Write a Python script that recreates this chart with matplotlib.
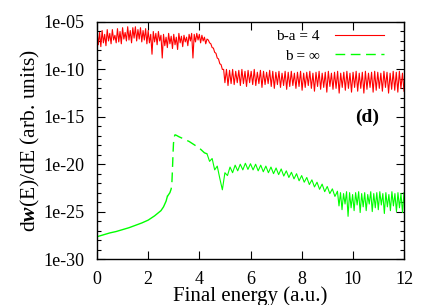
import numpy as np
import matplotlib.pyplot as plt
from matplotlib.ticker import LogLocator, NullFormatter

plt.rcParams['font.family'] = ['Liberation Serif', 'DejaVu Serif']
plt.rcParams['mathtext.fontset'] = 'custom'
plt.rcParams['mathtext.rm'] = 'Liberation Serif'
plt.rcParams['mathtext.bfit'] = 'Liberation Serif:italic:bold'

# ---- data (log10 of dw/dE) ----
# b-a = 4 (red): noisy plateau, drop near E=4.5, oscillating tail
red_plateau_x = np.linspace(0.0, 4.3, 87)
red_plateau = [
    -6.0, -7.4, -6.1, -7.6, -5.9, -7.2, -6.3, -7.5, -5.8, -7.0,
    -6.2, -7.3, -5.8, -6.9, -6.4, -7.2, -5.7, -7.1, -6.0, -7.3,
    -5.6, -6.8, -6.1, -7.0, -5.5, -6.9, -5.9, -7.2, -5.6, -6.7,
    -5.5, -7.0, -5.8, -6.8, -5.6, -7.1, -5.9, -6.9, -5.7, -7.3,
    -5.9, -7.2, -6.3, -8.4, -6.0, -7.1, -6.2, -7.4, -6.0, -7.0,
    -6.4, -8.8, -6.3, -7.5, -6.6, -7.7, -6.2, -7.3, -6.5, -7.8,
    -6.3, -7.4, -6.6, -7.9, -6.2, -7.2, -6.5, -7.6, -6.4, -7.1,
    -6.6, -7.5, -6.3, -7.0, -6.2, -8.8, -6.3, -7.1, -6.2, -6.9,
    -6.3, -7.2, -6.4, -7.0, -6.6, -7.3, -6.8]
red_drop_x = [4.35, 4.40, 4.45, 4.50, 4.55, 4.60, 4.65, 4.70, 4.75, 4.80, 4.85, 4.90, 4.95]
red_drop = [-6.9, -7.2, -7.3, -7.7, -7.75, -8.2, -8.3, -8.8, -8.9, -9.4, -9.5, -10.0, -10.0]
red_tail_x = np.linspace(5.0, 12.0, 117)
red_tail = [
    -11.4, -10.0, -11.7, -10.1, -11.5, -10.0, -11.6, -10.2, -11.4, -10.1,
    -11.7, -10.0, -11.5, -10.2, -11.8, -10.1, -11.4, -10.2, -11.6, -10.0,
    -11.7, -10.3, -11.5, -10.1, -11.9, -10.2, -11.6, -10.3, -11.5, -10.1,
    -11.8, -10.2, -12.0, -10.3, -11.6, -10.2, -11.9, -10.4, -11.7, -10.2,
    -12.1, -10.3, -11.8, -10.2, -11.7, -10.4, -12.0, -10.3, -11.8, -10.2,
    -12.2, -10.4, -11.9, -10.3, -11.7, -10.2, -12.0, -10.4, -12.3, -10.3,
    -11.8, -10.2, -12.1, -10.4, -11.9, -10.3, -12.4, -10.2, -11.8, -10.4,
    -12.1, -10.3, -12.0, -10.2, -12.5, -10.4, -11.9, -10.3, -12.2, -10.2,
    -12.0, -10.4, -12.4, -10.3, -11.9, -10.2, -12.3, -10.4, -12.0, -10.3,
    -12.5, -10.2, -12.1, -10.4, -11.9, -10.3, -12.4, -10.2, -12.2, -10.3,
    -12.0, -10.4, -12.3, -10.2, -11.9, -10.3, -12.5, -10.4, -12.1, -10.2,
    -12.2, -10.3, -12.4, -10.2, -12.0, -10.4, -12.3]

# b = inf (green): smooth rise, jump at E~3, bump, oscillating tail
green_low_x = [0.0, 0.25, 0.5, 0.75, 1.0, 1.25, 1.5, 1.75, 2.0, 2.25, 2.5, 2.6, 2.7, 2.75]
green_low = [-27.65, -27.45, -27.25, -27.1, -26.9, -26.7, -26.45, -26.2, -25.9, -25.45,
             -24.9, -24.5, -23.9, -23.4]
green_jump_x = [2.75, 2.85, 2.9, 2.93, 2.95, 2.97, 2.99, 3.02, 3.05, 3.1, 3.2, 3.4,
                3.6, 3.8, 4.0, 4.2, 4.3]
green_jump = [-23.4, -23.0, -22.6, -21.8, -20.5, -19.0, -17.8, -17.1, -16.9, -16.95,
              -17.1, -17.35, -17.6, -17.95, -18.3, -18.8, -18.9]
green_mid_x = np.linspace(4.3, 9.4, 52)
green_mid = [
    -18.9, -19.7, -19.4, -20.6, -20.2, -21.5, -22.7, -20.9, -21.2, -20.3,
    -20.9, -20.1, -20.7, -20.0, -20.6, -19.9, -20.55, -19.95, -20.6, -20.0,
    -20.7, -20.1, -20.8, -20.2, -20.9, -20.3, -21.0, -20.4, -21.1, -20.5,
    -21.25, -20.7, -21.4, -20.85, -21.55, -21.0, -21.75, -21.2, -21.9, -21.4,
    -22.15, -21.65, -22.4, -21.9, -22.65, -22.1, -22.9, -22.35, -23.1, -22.6,
    -23.4, -22.85]
green_tail_x = np.linspace(9.4, 12.0, 45)
green_tail = [
    -22.9, -24.4, -23.0, -24.8, -23.1, -24.2, -22.9, -25.5, -23.0, -24.6,
    -23.2, -24.9, -23.0, -24.3, -22.9, -25.1, -23.1, -24.5, -23.0, -24.9,
    -23.2, -24.2, -22.9, -25.0, -23.1, -24.6, -23.0, -24.8, -22.9, -24.3,
    -23.1, -25.2, -23.0, -24.5, -23.2, -24.9, -22.9, -24.4, -23.1, -25.0,
    -23.0, -24.6, -23.1, -25.1, -23.0]

xticks = [0, 2, 4, 6, 8, 10, 12]
ytick_exp = [-30, -25, -20, -15, -10, -5]
ytick_labels = ['1e-30', '1e-25', '1e-20', '1e-15', '1e-10', '1e-05']

# ---- assemble curves ----
red_x = np.concatenate([red_plateau_x, red_drop_x, red_tail_x])
red_y = 10.0 ** np.concatenate([red_plateau, red_drop, red_tail])
green_noisy_x = np.concatenate([green_mid_x, green_tail_x])
green_noisy_y = 10.0 ** np.concatenate([green_mid, green_tail])

fig = plt.figure(figsize=(4.36, 3.05), dpi=100)
ax = fig.add_axes([97 / 436, 46 / 305, 307 / 436, 237 / 305])

green = '#00ff00'
ax.plot(red_x, red_y, color='#ff0000', lw=0.8, label='b-a = 4')
ax.plot(green_low_x, 10.0 ** np.array(green_low), color=green, lw=1.0)
ax.plot(green_jump_x, 10.0 ** np.array(green_jump), color=green, lw=1.0,
        dashes=(7, 4), label='b = \u221e')
ax.plot(green_noisy_x, green_noisy_y, color=green, lw=0.8)

ax.set_yscale('log')
ax.set_xlim(0, 12)
ax.set_ylim(1e-30, 1e-5)
ax.set_xticks(xticks)
ax.set_yticks([10.0 ** e for e in ytick_exp])
ax.set_yticklabels(ytick_labels)
ax.yaxis.set_minor_locator(LogLocator(base=10, subs=(1.0,), numticks=40))
ax.yaxis.set_minor_formatter(NullFormatter())
ax.tick_params(which='both', direction='in', top=True, right=True, labelsize=13)
ax.tick_params(which='major', length=6, width=0.8)
ax.tick_params(which='minor', length=3, width=0.8)
ax.tick_params(axis='x', which='major', pad=8.5)
ax.tick_params(axis='y', which='major', pad=9)
for s in ax.spines.values():
    s.set_linewidth(1.0)

ax.set_xlabel('Final energy (a.u.)', fontsize=15, labelpad=-1)
ax.set_ylabel(r'd$\mathbfit{w}$(E)/dE (arb. units)', fontsize=15.5, labelpad=1)

ax.legend(loc='upper right', bbox_to_anchor=(0.955, 0.993), frameon=False,
          fontsize=11, markerfirst=False, handlelength=3.2, handletextpad=1.0,
          borderaxespad=0, labelspacing=0.35)
ax.text(10.55, 10.0 ** -15.1, '(d)', fontsize=14, fontweight='bold',
        ha='center', va='center')

fig.savefig('out.png', dpi=100)
